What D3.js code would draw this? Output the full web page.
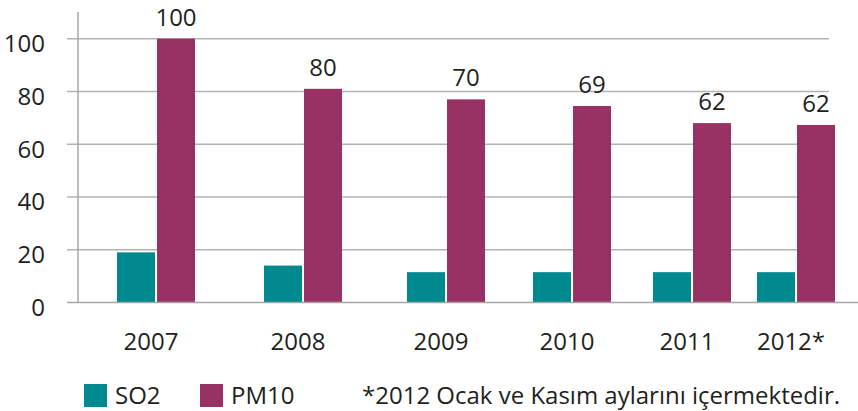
<!DOCTYPE html>
<html>
<head>
<meta charset="utf-8">
<script src="https://cdn.jsdelivr.net/npm/d3@7"></script>
<style>
  html, body { margin: 0; padding: 0; background: #fff; }
  svg { display: block; font-family: "Open Sans", "Noto Sans", sans-serif; }
</style>
</head>
<body>
<script>
// ---- data ----
const categories = ["2007", "2008", "2009", "2010", "2011", "2012*"];
const so2Values  = [19, 14, 11.5, 11.5, 11.5, 11.5];
const pm10Values = [100, 81, 77, 74.5, 68, 67.3];
const pm10Labels = ["100", "80", "70", "69", "62", "62"];
const yTicks     = [0, 20, 40, 60, 80, 100];
const seriesNames = ["SO2", "PM10"];
const footnote = "*2012 Ocak ve Kasım aylarını içermektedir.";

// ---- layout ----
const W = 858, H = 411;
const colors = { SO2: "#00898f", PM10: "#983264" };
const textColor = "#231f20";
const gridColor = "#b3b3b3";
const barW = 38, barGap = 2;
const fs = 24;

const svg = d3.select("body").append("svg").attr("width", W).attr("height", H);
svg.append("rect").attr("width", W).attr("height", H).attr("fill", "#fff");

const y = d3.scaleLinear().domain([0, 100]).range([302.5, 38.7]);
// group centres (the original chart spaces its year groups unevenly)
const x = d3.scaleOrdinal().domain(categories).range([156, 303, 446, 572, 692, 796]);

// gridlines
svg.append("g").selectAll("line").data(yTicks.filter(d => d > 0)).join("line")
  .attr("x1", 67).attr("x2", 829)
  .attr("y1", d => y(d)).attr("y2", d => y(d))
  .attr("stroke", gridColor).attr("stroke-width", 1.5);

// y tick labels
svg.append("g").selectAll("text").data(yTicks).join("text")
  .attr("x", 45).attr("y", d => y(d) + 5)
  .attr("dy", "0.35em")
  .attr("text-anchor", "end")
  .attr("font-size", fs).attr("fill", textColor)
  .text(d => d);

// bars
const g = svg.append("g");
g.selectAll("rect.so2").data(categories).join("rect")
  .attr("class", "so2")
  .attr("x", (d) => x(d) - barW - barGap / 2)
  .attr("width", barW)
  .attr("y", (d, i) => y(so2Values[i]))
  .attr("height", (d, i) => y(0) - y(so2Values[i]))
  .attr("fill", colors.SO2);
g.selectAll("rect.pm10").data(categories).join("rect")
  .attr("class", "pm10")
  .attr("x", (d) => x(d) + barGap / 2)
  .attr("width", barW)
  .attr("y", (d, i) => y(pm10Values[i]))
  .attr("height", (d, i) => y(0) - y(pm10Values[i]))
  .attr("fill", colors.PM10);

// value labels
g.selectAll("text.val").data(categories).join("text")
  .attr("class", "val")
  .attr("x", d => x(d) + barGap / 2 + barW / 2)
  .attr("y", (d, i) => y(pm10Values[i]) - 13)
  .attr("text-anchor", "middle")
  .attr("font-size", fs).attr("fill", textColor)
  .text((d, i) => pm10Labels[i]);

// axes lines
svg.append("line").attr("x1", 78).attr("x2", 78).attr("y1", 12).attr("y2", y(0))
  .attr("stroke", "#a6a6a6").attr("stroke-width", 1.5);
svg.append("line").attr("x1", 67).attr("x2", W).attr("y1", y(0)).attr("y2", y(0))
  .attr("stroke", "#a6a6a6").attr("stroke-width", 1.5);

// x labels
svg.append("g").selectAll("text").data(categories).join("text")
  .attr("x", d => x(d) - 5)
  .attr("y", 350)
  .attr("text-anchor", "middle")
  .attr("font-size", fs).attr("fill", textColor)
  .text(d => d);

// legend
const legendPos = [{sq: 84, tx: 115}, {sq: 200, tx: 231}];
const lg = svg.append("g");
seriesNames.forEach((s, i) => {
  lg.append("rect").attr("x", legendPos[i].sq).attr("y", 384).attr("width", 23).attr("height", 23)
    .attr("fill", colors[s]);
  lg.append("text").attr("x", legendPos[i].tx).attr("y", 404)
    .attr("font-size", fs).attr("fill", textColor).text(s);
});
lg.append("text").attr("x", 362).attr("y", 404)
  .attr("font-size", fs).attr("fill", textColor).text(footnote);
</script>
</body>
</html>
